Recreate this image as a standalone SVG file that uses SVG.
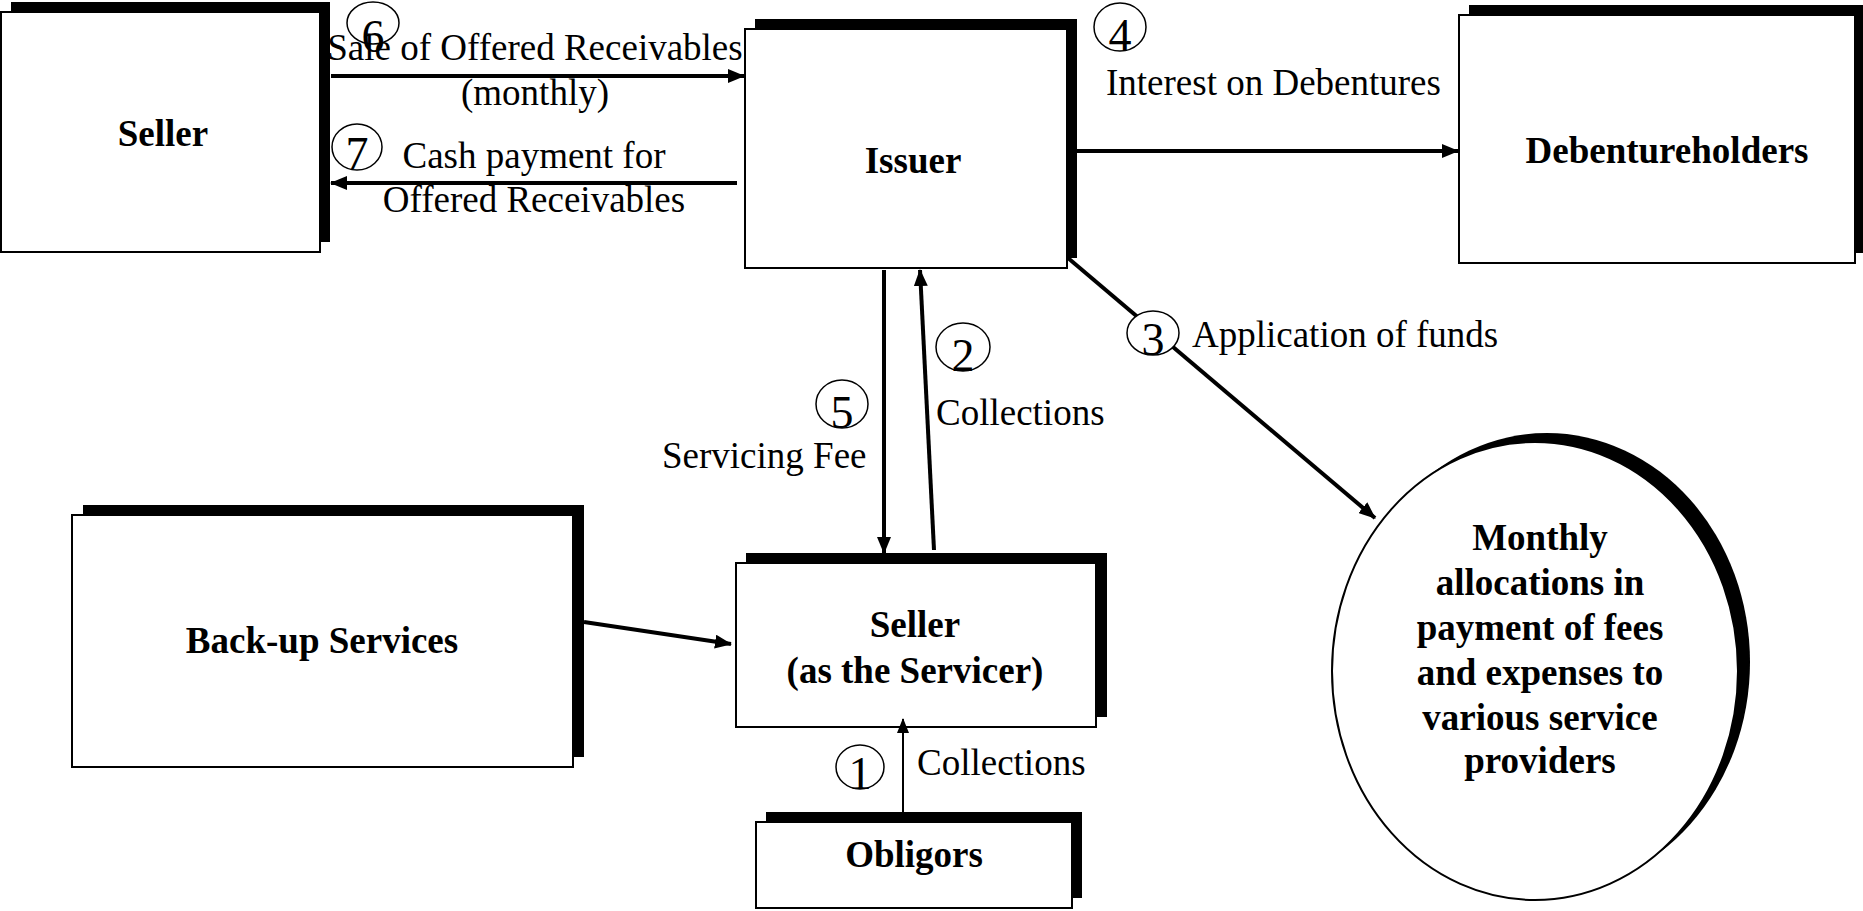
<svg xmlns="http://www.w3.org/2000/svg" width="1863" height="911" viewBox="0 0 1863 911">
<style>
.bg{fill:#fff}
.box{fill:#fff;stroke:#000;stroke-width:2}
.sh{fill:#000}
.b{font-family:"Liberation Serif","Times New Roman",serif;font-weight:bold;font-size:37px;text-anchor:middle;fill:#000}
.t{font-family:"Liberation Serif","Times New Roman",serif;font-size:37px;fill:#000}
.m{text-anchor:middle}
.n{fill:none;stroke:#000;stroke-width:1.5}
.nw{fill:#fff;stroke:#000;stroke-width:1.5}
.d{font-family:"Liberation Serif","Times New Roman",serif;font-size:46px;text-anchor:middle;fill:#000}
.c{stroke:#000;stroke-width:4;fill:none}
.c2{stroke:#000;stroke-width:2;fill:none}
</style>
<defs>
<marker id="ah" markerUnits="userSpaceOnUse" markerWidth="17" markerHeight="14" refX="16" refY="7" orient="auto">
<path d="M0,0 L17,7 L0,14 z" fill="#000"/>
</marker>
<marker id="ahs" markerUnits="userSpaceOnUse" markerWidth="15" markerHeight="12" refX="14" refY="6" orient="auto">
<path d="M0,0 L15,6 L0,12 z" fill="#000"/>
</marker>
</defs>
<rect class="bg" x="0" y="0" width="1863" height="911"/>

<g id="seller">
<rect class="sh" x="11" y="2" width="319" height="240"/>
<rect class="box" x="1" y="12" width="319" height="240"/>
<text class="b" x="163" y="146">Seller</text>
</g>

<g id="issuer">
<rect class="sh" x="755" y="19" width="322" height="239"/>
<rect class="box" x="745" y="29" width="322" height="239"/>
<text class="b" x="913" y="173">Issuer</text>
</g>

<g id="debentureholders">
<rect class="sh" x="1469" y="5" width="396" height="248"/>
<rect class="box" x="1459" y="15" width="396" height="248"/>
<text class="b" x="1667" y="163">Debentureholders</text>
</g>

<g id="servicer">
<rect class="sh" x="746" y="553" width="361" height="164"/>
<rect class="box" x="736" y="563" width="360" height="164"/>
<text class="b" x="915" y="637">Seller</text>
<text class="b" x="915" y="683">(as the Servicer)</text>
</g>

<g id="backup">
<rect class="sh" x="83" y="505" width="501" height="252"/>
<rect class="box" x="72" y="515" width="501" height="252"/>
<text class="b" x="322" y="653">Back-up Services</text>
</g>

<g id="obligors">
<rect class="sh" x="766" y="812" width="316" height="86"/>
<rect class="box" x="756" y="822" width="316" height="86"/>
<text class="b" x="914" y="867">Obligors</text>
</g>

<g id="allocations">
<ellipse class="sh" cx="1547" cy="662" rx="203" ry="229"/>
<ellipse class="box" cx="1535" cy="671" rx="203" ry="229"/>
<text class="b" x="1540" y="550">Monthly</text>
<text class="b" x="1540" y="595">allocations in</text>
<text class="b" x="1540" y="640">payment of fees</text>
<text class="b" x="1540" y="685">and expenses to</text>
<text class="b" x="1540" y="730">various service</text>
<text class="b" x="1540" y="773">providers</text>
</g>

<g id="connectors">
<line class="c" x1="331" y1="76" x2="744" y2="76" marker-end="url(#ah)"/>
<line class="c" x1="737" y1="183" x2="331" y2="183" marker-end="url(#ah)"/>
<line class="c" x1="1077" y1="151" x2="1458" y2="151" marker-end="url(#ah)"/>
<line class="c" x1="1068" y1="258" x2="1375" y2="518" marker-end="url(#ah)"/>
<line class="c" x1="884" y1="270" x2="884" y2="553" marker-end="url(#ah)"/>
<line class="c" x1="934" y1="550" x2="920" y2="270" marker-end="url(#ah)"/>
<line class="c" x1="584" y1="622" x2="731" y2="644" marker-end="url(#ah)"/>
<line class="c2" x1="903" y1="812" x2="903" y2="719" marker-end="url(#ahs)"/>
</g>

<g id="labels">
<ellipse class="n" cx="373" cy="23" rx="26" ry="21"/>
<text class="d" x="373" y="52">6</text>
<text class="t m" x="535" y="60">Sale of Offered Receivables</text>
<text class="t m" x="535" y="105">(monthly)</text>

<ellipse class="n" cx="357" cy="147" rx="25" ry="23"/>
<text class="d" x="357" y="169">7</text>
<text class="t m" x="534" y="168">Cash payment for</text>
<text class="t m" x="534" y="212">Offered Receivables</text>

<ellipse class="n" cx="1120" cy="27" rx="26" ry="24"/>
<text class="d" x="1120" y="51">4</text>
<text class="t" x="1106" y="95">Interest on Debentures</text>

<ellipse class="nw" cx="1153" cy="333" rx="26" ry="22"/>
<text class="d" x="1153" y="355">3</text>
<text class="t" x="1192" y="347">Application of funds</text>

<ellipse class="n" cx="963" cy="347" rx="27" ry="24"/>
<text class="d" x="963" y="371">2</text>
<text class="t" x="936" y="425">Collections</text>

<ellipse class="n" cx="842" cy="404" rx="26" ry="24"/>
<text class="d" x="842" y="428">5</text>
<text class="t" x="662" y="468">Servicing Fee</text>

<ellipse class="n" cx="860" cy="767" rx="24" ry="22"/>
<text class="d" x="860" y="789">1</text>
<text class="t" x="917" y="775">Collections</text>
</g>
</svg>
